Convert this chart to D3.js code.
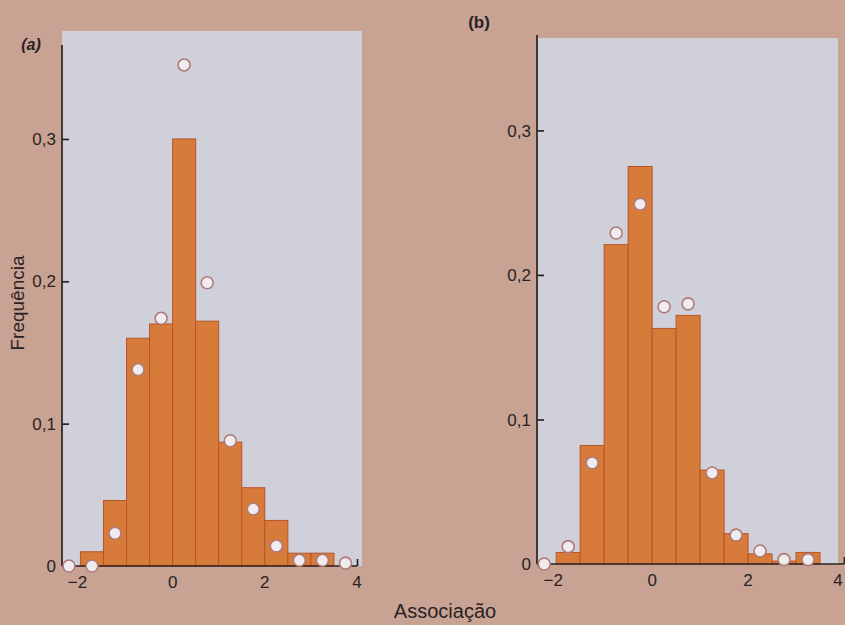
<!DOCTYPE html>
<html><head><meta charset="utf-8">
<script src="https://cdn.jsdelivr.net/npm/d3@7"></script>
<style>
html,body{margin:0;padding:0;background:#c8a393;}
svg{display:block;font-family:"Liberation Sans",Arial,sans-serif;}
</style></head>
<body>
<svg id="chart" width="845" height="625"></svg>
<script>
// Bin edges (left edge of each bin, width 0.5)
const binStarts = [-2, -1.5, -1, -0.5, 0, 0.5, 1, 1.5, 2, 2.5, 3];
const binWidth = 0.5;
// Panel (a) histogram frequencies
const barsA = [0.01, 0.046, 0.16, 0.17, 0.30, 0.172, 0.087, 0.055, 0.032, 0.009, 0.009];
// Panel (a) model points (bin centres)
const pointXA = [-2.25, -1.75, -1.25, -0.75, -0.25, 0.25, 0.75, 1.25, 1.75, 2.25, 2.75, 3.25, 3.75];
const pointsA = [0, 0, 0.023, 0.138, 0.174, 0.352, 0.199, 0.088, 0.04, 0.014, 0.004, 0.004, 0.002];
// Panel (b)
const barsB = [0.008, 0.082, 0.221, 0.275, 0.163, 0.172, 0.065, 0.021, 0.007, 0.002, 0.008];
const pointXB = [-2.25, -1.75, -1.25, -0.75, -0.25, 0.25, 0.75, 1.25, 1.75, 2.25, 2.75, 3.25];
const pointsB = [0, 0.012, 0.07, 0.229, 0.249, 0.178, 0.18, 0.063, 0.02, 0.009, 0.003, 0.003];
// Ticks
const xTicks = [-2, 0, 2, 4];
const yTicks = [0, 0.1, 0.2, 0.3];
const yTickLabels = ["0", "0,1", "0,2", "0,3"];
const panelLabels = ["(a)", "(b)"];
const xTitle = "Associação";
const yTitle = "Frequência";

const svg = d3.select("#chart");
const barFill = "#d77b3b", barStroke = "#b9542b";
const axisCol = "#2b2222", textCol = "#2a2224";

function panel(cfg) {
  const x = d3.scaleLinear().domain([-2.4, 4]).range(cfg.xr);
  const y = d3.scaleLinear().domain([0, 0.366]).range(cfg.yr);
  const g = svg.append("g");
  // panel background
  g.append("rect")
    .attr("x", cfg.xr[0]).attr("y", cfg.bgTop)
    .attr("width", cfg.bgRight - cfg.xr[0]).attr("height", cfg.yr[0] - cfg.bgTop)
    .attr("fill", "#cfd0da");
  // bars
  g.selectAll("rect.bar").data(cfg.bars).join("rect").attr("class", "bar")
    .attr("x", (d, i) => x(binStarts[i]))
    .attr("width", (d, i) => x(binStarts[i] + binWidth) - x(binStarts[i]))
    .attr("y", d => y(d))
    .attr("height", d => y(0) - y(d))
    .attr("fill", barFill).attr("stroke", barStroke).attr("stroke-width", 1);
  // axes
  const yAxis = d3.axisRight(y).tickValues(yTicks).tickSize(7).tickFormat("");
  const ya = g.append("g").attr("transform", `translate(${cfg.xr[0]},0)`).call(yAxis);
  ya.select(".domain").attr("d", `M0,${cfg.yr[1]}V${cfg.yr[0]}`);
  const xAxis = d3.axisTop(x).tickValues([4]).tickSize(7).tickFormat("");
  const xa = g.append("g").attr("transform", `translate(0,${cfg.yr[0]})`).call(xAxis);
  xa.select(".domain").attr("d", `M${cfg.xr[0]},0H${cfg.xr[1]}`);
  g.selectAll(".domain, .tick line").attr("stroke", axisCol).attr("stroke-width", 1.7);
  // y tick labels
  g.selectAll("text.yl").data(yTicks).join("text").attr("class", "yl")
    .attr("x", cfg.xr[0] - 6).attr("y", d => y(d)).attr("dy", "0.36em")
    .attr("text-anchor", "end").attr("font-size", 17).attr("fill", textCol)
    .text((d, i) => yTickLabels[i]);
  // x tick labels
  g.selectAll("text.xl").data(xTicks).join("text").attr("class", "xl")
    .attr("x", d => Math.min(x(d) - (d < 0 ? 3 : 0), 838)).attr("y", cfg.yr[0] + 22)
    .attr("text-anchor", "middle").attr("font-size", 17).attr("fill", textCol)
    .text(d => d < 0 ? "\u2212" + Math.abs(d) : String(d));
  // points
  g.selectAll("circle.pt").data(cfg.points).join("circle").attr("class", "pt")
    .attr("cx", (d, i) => x(cfg.pointX[i])).attr("cy", d => y(d)).attr("r", 6)
    .attr("fill", "#efebef").attr("stroke", "#b07a76").attr("stroke-width", 1.6);
  // panel label
  svg.append("text").attr("x", cfg.lab[0]).attr("y", cfg.lab[1])
    .attr("font-size", cfg.labSize).attr("font-weight", "bold").attr("fill", textCol)
    .attr("font-style", cfg.italic ? "italic" : "normal")
    .attr("text-anchor", "middle").text(cfg.label);
}

panel({xr: [62, 357], yr: [566, 45], bgTop: 31, bgRight: 362,
       bars: barsA, points: pointsA, pointX: pointXA,
       label: panelLabels[0], lab: [31, 50], labSize: 16, italic: true});
panel({xr: [537, 844], yr: [564, 35], bgTop: 38, bgRight: 838,
       bars: barsB, points: pointsB, pointX: pointXB,
       label: panelLabels[1], lab: [479, 28], labSize: 17, italic: false});

svg.append("text").attr("x", 445).attr("y", 618).attr("text-anchor", "middle")
  .attr("font-size", 20).attr("fill", textCol).text(xTitle);
svg.append("text").attr("transform", "translate(24,303) rotate(-90)")
  .attr("text-anchor", "middle").attr("font-size", 19).attr("fill", textCol).text(yTitle);
</script>
</body></html>
